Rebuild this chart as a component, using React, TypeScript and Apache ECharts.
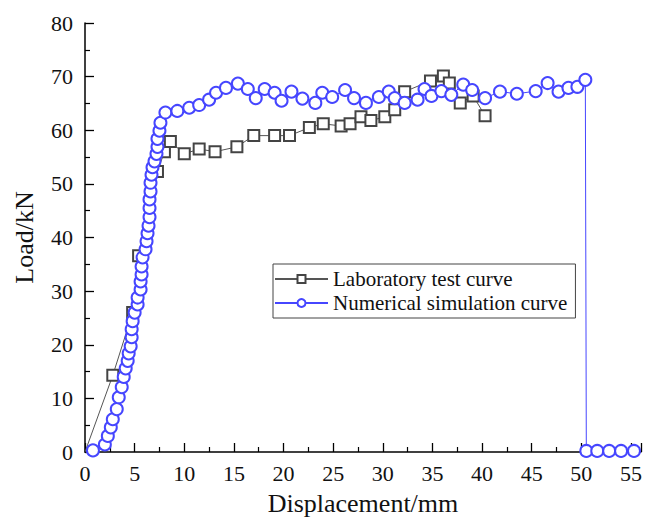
import React, { useEffect, useRef } from "react";
import * as echarts from "echarts";

const labX = [0, 2.8, 4.8, 5.4, 7.3, 8.0, 8.6, 10.0, 11.5, 13.1, 15.3, 17.0, 19.1, 20.6, 22.6, 24.0, 25.8, 26.7, 27.8, 28.8, 30.2, 31.2, 32.2, 34.8, 36.1, 36.7, 37.8, 39.1, 40.3];
const labY = [0, 14.3, 26.0, 36.6, 52.3, 56.0, 57.9, 55.6, 56.5, 56.0, 56.9, 59.0, 59.0, 59.0, 60.5, 61.2, 60.8, 61.2, 62.5, 61.8, 62.5, 63.8, 67.2, 69.2, 70.1, 68.8, 65.1, 66.4, 62.7];

const numX = [0.8, 2.0, 2.3, 2.6, 2.8, 3.2, 3.4, 3.7, 3.9, 4.1, 4.3, 4.4, 4.6, 4.7, 4.7, 4.8, 5.0, 5.3, 5.3, 5.6, 5.6, 5.7, 5.7, 5.8, 6.1, 6.2, 6.3, 6.4, 6.5, 6.5, 6.5, 6.6, 6.6, 6.7, 6.8, 7.0, 7.2, 7.3, 7.3, 7.5, 7.6, 8.1, 9.3, 10.5, 11.5, 12.5, 13.2, 14.2, 15.4, 16.4, 17.2, 18.1, 19.1, 19.8, 20.8, 21.9, 23.2, 23.9, 24.9, 26.2, 27.1, 28.3, 29.6, 30.6, 31.2, 32.2, 33.5, 34.2, 34.9, 35.9, 36.9, 38.1, 39.0, 40.3, 41.8, 43.5, 45.4, 46.6, 47.7, 48.7, 49.6, 50.4, 50.5, 51.6, 52.8, 54.0, 55.3];
const numY = [0.3, 1.4, 3.0, 4.6, 6.1, 8.0, 10.2, 12.1, 14.0, 15.6, 17.0, 18.4, 19.7, 21.4, 22.9, 24.4, 26.0, 27.5, 28.8, 30.3, 31.8, 33.1, 34.6, 36.3, 37.8, 39.3, 40.8, 42.2, 43.8, 45.5, 47.1, 48.6, 50.2, 51.7, 53.1, 54.2, 55.6, 56.9, 58.4, 59.9, 61.4, 63.3, 63.6, 64.2, 64.7, 65.7, 67.0, 67.9, 68.7, 67.7, 66.0, 67.7, 67.0, 65.5, 67.2, 65.9, 65.1, 67.0, 66.2, 67.5, 66.0, 65.1, 66.2, 67.2, 66.0, 65.1, 65.7, 67.7, 66.4, 67.3, 66.6, 68.5, 67.5, 66.0, 67.2, 66.8, 67.3, 68.8, 67.2, 67.9, 68.1, 69.4, 0.2, 0.2, 0.2, 0.2, 0.2];

const seriesNames = ["Laboratory test curve", "Numerical simulation curve"];
const xTitle = "Displacement/mm";
const yTitle = "Load/kN";

const FONT = "'Liberation Serif', 'Times New Roman', serif";

export default function App() {
  const ref = useRef<HTMLDivElement>(null);
  useEffect(() => {
    if (!ref.current) return;
    const chart = echarts.init(ref.current, null, { renderer: "svg" });
    const labData = labX.map((x, i) =>
      i === 0 ? { value: [x, labY[i]], symbol: "none" } : [x, labY[i]]
    );
    const numData = numX.map((x, i) => [x, numY[i]]);
    chart.setOption({
      animation: false,
      backgroundColor: "#fff",
      grid: { left: 85, top: 23, width: 560, height: 430, containLabel: false },
      legend: {
        left: 273,
        top: 264,
        orient: "vertical",
        itemWidth: 53,
        itemHeight: 10,
        itemGap: 2,
        padding: [4, 8, 4, 1],
        borderColor: "#444",
        borderWidth: 1,
        backgroundColor: "#fff",
        textStyle: { fontFamily: FONT, fontSize: 21, color: "#111", lineHeight: 22 },
        data: seriesNames,
      },
      xAxis: {
        type: "value",
        min: 0,
        max: 56,
        interval: 5,
        name: xTitle,
        nameLocation: "middle",
        nameGap: 38,
        nameTextStyle: { fontFamily: FONT, fontSize: 26, color: "#111" },
        axisLine: { show: true, onZero: false, lineStyle: { color: "#000", width: 1.5 } },
        axisTick: { show: true, inside: true, length: 9, lineStyle: { color: "#000", width: 1.3 } },
        minorTick: { show: true, splitNumber: 2, length: 5, lineStyle: { color: "#000", width: 1.2 } },
        axisLabel: {
          fontFamily: FONT,
          fontSize: 22,
          color: "#111",
          margin: 10,
          showMaxLabel: false,
          formatter: (v: number) => (v % 5 === 0 ? String(v) : ""),
        },
        splitLine: { show: false },
      },
      yAxis: {
        type: "value",
        min: 0,
        max: 80,
        interval: 10,
        name: yTitle,
        nameLocation: "middle",
        nameRotate: 90,
        nameGap: 48,
        nameTextStyle: { fontFamily: FONT, fontSize: 26, color: "#111" },
        axisLine: { show: true, onZero: false, lineStyle: { color: "#000", width: 1.5 } },
        axisTick: { show: true, inside: true, length: 9, lineStyle: { color: "#000", width: 1.3 } },
        minorTick: { show: true, splitNumber: 2, length: 5, lineStyle: { color: "#000", width: 1.2 } },
        axisLabel: { fontFamily: FONT, fontSize: 22, color: "#111", margin: 12 },
        splitLine: { show: false },
      },
      series: [
        {
          name: seriesNames[0],
          type: "line",
          data: labData,
          symbol: "emptyRect",
          symbolSize: 11,
          showAllSymbol: true,
          itemStyle: { color: "#444", borderWidth: 1.2 },
          lineStyle: { color: "#555", width: 1 },
          z: 2,
        },
        {
          name: seriesNames[1],
          type: "line",
          data: numData,
          symbol: "emptyCircle",
          symbolSize: 12,
          showAllSymbol: true,
          itemStyle: { color: "#4646ff", borderWidth: 1.2 },
          lineStyle: { color: "#4646ff", width: 1 },
          z: 3,
        },
      ],
    });
    return () => chart.dispose();
  }, []);
  return (
    <div
      ref={ref}
      style={{ position: "fixed", left: 0, top: 0, width: 645, height: 521 }}
    />
  );
}
